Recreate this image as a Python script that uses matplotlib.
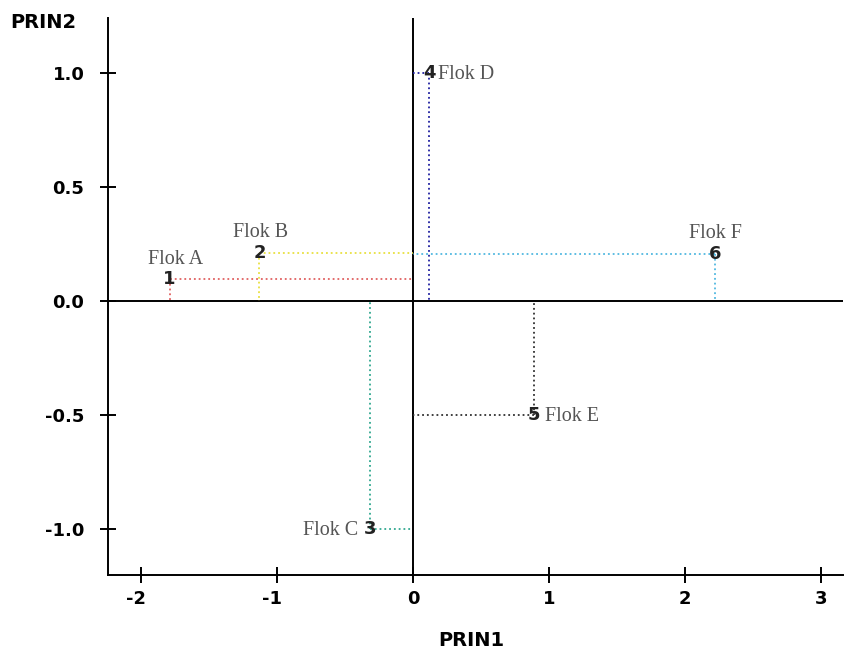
import matplotlib
matplotlib.use('Agg')
import matplotlib.pyplot as plt
from matplotlib.transforms import ScaledTranslation

# Principal component scores per flock
ids = ['1', '2', '3', '4', '5', '6']
flocks = ['Flok A', 'Flok B', 'Flok C', 'Flok D', 'Flok E', 'Flok F']
prin1 = [-1.79, -1.13, -0.32, 0.12, 0.885, 2.22]
prin2 = [0.095, 0.21, -1.0, 1.0, -0.5, 0.205]
x_ticks = [-2, -1, 0, 1, 2, 3]
y_ticks = [-1.0, -0.5, 0.0, 0.5, 1.0]

colors = ['#e06060', '#e8e040', '#30a890', '#2020a0', '#303030', '#50b8e0']
# label offsets (points) and alignment
offsets = [(4, 14, 'center'), (1, 15, 'center'), (-8, -1, 'right'),
           (6, -1, 'left'), (8, -1, 'left'), (0, 15, 'center')]

fig = plt.figure(figsize=(8.63, 6.52), dpi=100)
ax = fig.add_axes([108 / 863, 77 / 652, 735 / 863, 557 / 652])

for x, y, c in zip(prin1, prin2, colors):
    ax.plot([x, x], [y, 0], ls=':', color=c, lw=1.3, zorder=2)
    ax.plot([x, 0], [y, y], ls=':', color=c, lw=1.3, zorder=2)

ax.axhline(0, color='black', lw=1.4, zorder=1)
ax.axvline(0, color='black', lw=1.4, zorder=1)

for i in range(len(ids)):
    ax.text(prin1[i], prin2[i], ids[i], ha='center', va='center',
            fontsize=13, fontweight='bold', color='#222222', zorder=3)
    dx, dy, ha = offsets[i]
    ax.annotate(flocks[i], (prin1[i], prin2[i]), xytext=(dx, dy),
                textcoords='offset points', ha=ha, va='center',
                fontsize=14.5, family='Liberation Serif', color='#555555')

ax.set_xlim(-2.243, 3.16)
ax.set_ylim(-1.202, 1.241)
ax.set_xticks(x_ticks)
ax.set_xticklabels([str(t) for t in x_ticks])
ax.set_yticks(y_ticks)
ax.set_yticklabels(['%.1f' % t for t in y_ticks])
ax.spines['top'].set_visible(False)
ax.spines['right'].set_visible(False)
ax.spines['left'].set_linewidth(1.4)
ax.spines['bottom'].set_linewidth(1.4)
ax.tick_params(direction='inout', length=12, width=1.4, labelsize=13)
ax.tick_params(axis='y', pad=11)
ax.tick_params(axis='x', pad=5)
for lbl in ax.get_xticklabels() + ax.get_yticklabels():
    lbl.set_fontweight('bold')
# keep the digit of negative x labels on the tick
for lbl, t in zip(ax.get_xticklabels(), x_ticks):
    if t < 0:
        lbl.set_transform(lbl.get_transform() +
                          ScaledTranslation(-4 / 72, 0, fig.dpi_scale_trans))

fig.text(10 / 863, 1 - 22 / 652, 'PRIN2', fontsize=14, fontweight='bold',
         va='center', ha='left')
fig.text(471 / 863, 1 - 641 / 652, 'PRIN1', fontsize=14, fontweight='bold',
         va='center', ha='center')

fig.savefig('out.png', dpi=100)
